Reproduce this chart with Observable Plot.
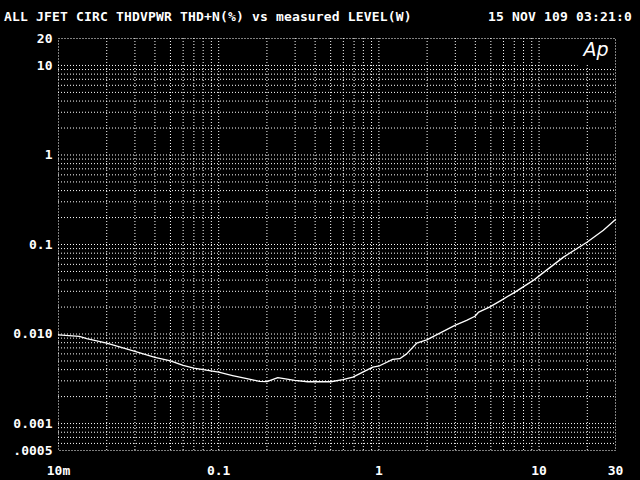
<!DOCTYPE html>
<html>
<head>
<meta charset="utf-8">
<script src="https://cdn.jsdelivr.net/npm/d3@7"></script>
<script src="https://cdn.jsdelivr.net/npm/@observablehq/plot@0.6"></script>
<style>
  html, body { margin: 0; padding: 0; background: #000; }
  #wrap { width: 640px; height: 480px; background: #000; overflow: hidden; }
  #head { position: relative; height: 26px; color: #fff; font-family: "DejaVu Sans Mono", monospace; font-weight: bold; font-size: 13px; letter-spacing: 0.17px; line-height: 15px; }
  #title { position: absolute; left: 4px; top: 9px; white-space: pre; }
  #date { position: absolute; right: 8px; top: 9px; white-space: pre; }
  svg { display: block; }
</style>
</head>
<body>
<div id="wrap">
  <div id="head"><span id="title"></span><span id="date"></span></div>
  <div id="chart"></div>
</div>
<script>
// ---- data ----
const titleText = "ALL JFET CIRC THDVPWR THD+N(%) vs measured LEVEL(W)";
const dateText = "15 NOV 109 03:21:0";
const logoText = "Ap";

// measured level (W)
const level = [0.01, 0.0135, 0.015, 0.02, 0.03, 0.04, 0.05, 0.06, 0.07, 0.08, 0.1, 0.122, 0.15, 0.18, 0.2, 0.234, 0.298, 0.36, 0.42, 0.5, 0.596, 0.688, 0.794, 0.917, 1.01, 1.22, 1.35, 1.49, 1.72, 1.99, 2.98, 3.53, 3.98, 4.2, 4.9, 5.8, 7.08, 9.2, 10.1, 14.2, 19.9, 25.2, 30];
// THD+N (%)
const thdn = [0.0098, 0.0094, 0.0089, 0.0079, 0.0064, 0.0055, 0.0050, 0.00446, 0.00416, 0.0040, 0.00375, 0.00344, 0.00317, 0.00296, 0.00294, 0.00325, 0.00303, 0.00293, 0.00293, 0.00293, 0.0031, 0.0033, 0.00375, 0.00427, 0.00442, 0.0052, 0.0053, 0.0060, 0.0079, 0.0086, 0.0125, 0.0142, 0.0158, 0.0176, 0.020, 0.0238, 0.0294, 0.0397, 0.0452, 0.0723, 0.106, 0.144, 0.19];

const xTicks = [0.01, 0.1, 1, 10, 30];
const xTickLabels = ["10m", "0.1", "1", "10", "30"];
const yTicks = [20, 10, 1, 0.1, 0.01, 0.001, 0.0005];
const yTickLabels = ["20", "10", "1", "0.1", "0.010", "0.001", ".0005"];

const xDomain = [0.01, 30];
const yDomain = [0.0005, 20];
const mantissas = [1, 2, 3, 4, 5, 6, 7, 8, 9];
const xDecades = [0.01, 0.1, 1, 10];
const yDecades = [0.0001, 0.001, 0.01, 0.1, 1, 10];

// ---- build ----
document.getElementById("title").textContent = titleText;
document.getElementById("date").textContent = dateText;

const xGrid = xDecades.flatMap(d => mantissas.map(m => +(m * d).toPrecision(3)))
  .filter(v => v > xDomain[0] && v < xDomain[1]);
const yGrid = yDecades.flatMap(d => mantissas.map(m => +(m * d).toPrecision(3)))
  .filter(v => v > yDomain[0] && v < yDomain[1]);

const data = level.map((x, i) => ({x, y: thdn[i]}));
const xLab = xTicks.map((v, i) => ({v, label: xTickLabels[i]}));
const yLab = yTicks.map((v, i) => ({v, label: yTickLabels[i]}));
const dots = "1,2";

const chart = Plot.plot({
  width: 640,
  height: 454,
  marginLeft: 58,
  marginRight: 25,
  marginTop: 12,
  marginBottom: 30,
  style: {background: "#000", color: "#fff", fontFamily: "'DejaVu Sans Mono', monospace", fontSize: "13px", overflow: "visible"},
  x: {type: "log", domain: xDomain, axis: null},
  y: {type: "log", domain: yDomain, axis: null},
  marks: [
    Plot.ruleX(xGrid, {x: d => d, y1: yDomain[0], y2: d => d === 20 ? 10 : yDomain[1], stroke: "#fff", strokeDasharray: dots, strokeWidth: 1}),
    Plot.ruleY(yGrid, {y: d => d, x1: xDomain[0], x2: d => d === 10 ? 17.5 : xDomain[1], stroke: "#fff", strokeDasharray: dots, strokeWidth: 1}),
    Plot.frame({stroke: "#fff", strokeDasharray: dots, strokeWidth: 1}),
    Plot.line(data, {x: "x", y: "y", stroke: "#fff", strokeWidth: 1.3}),
    Plot.text([logoText], {frameAnchor: "top-right", text: d => d, dx: -7, dy: 4, lineAnchor: "top", textAnchor: "end", fill: "#fff", fontFamily: "'DejaVu Sans', sans-serif", fontStyle: "italic", fontWeight: 200, fontSize: 19}),
    Plot.text(xLab, {x: "v", frameAnchor: "bottom", text: "label", lineAnchor: "top", dy: 15, fill: "#fff", fontWeight: "bold"}),
    Plot.text(yLab, {y: "v", frameAnchor: "left", text: "label", textAnchor: "end", lineAnchor: "middle", dx: -6, fill: "#fff", fontWeight: "bold"})
  ]
});
document.getElementById("chart").appendChild(chart);
</script>
</body>
</html>
